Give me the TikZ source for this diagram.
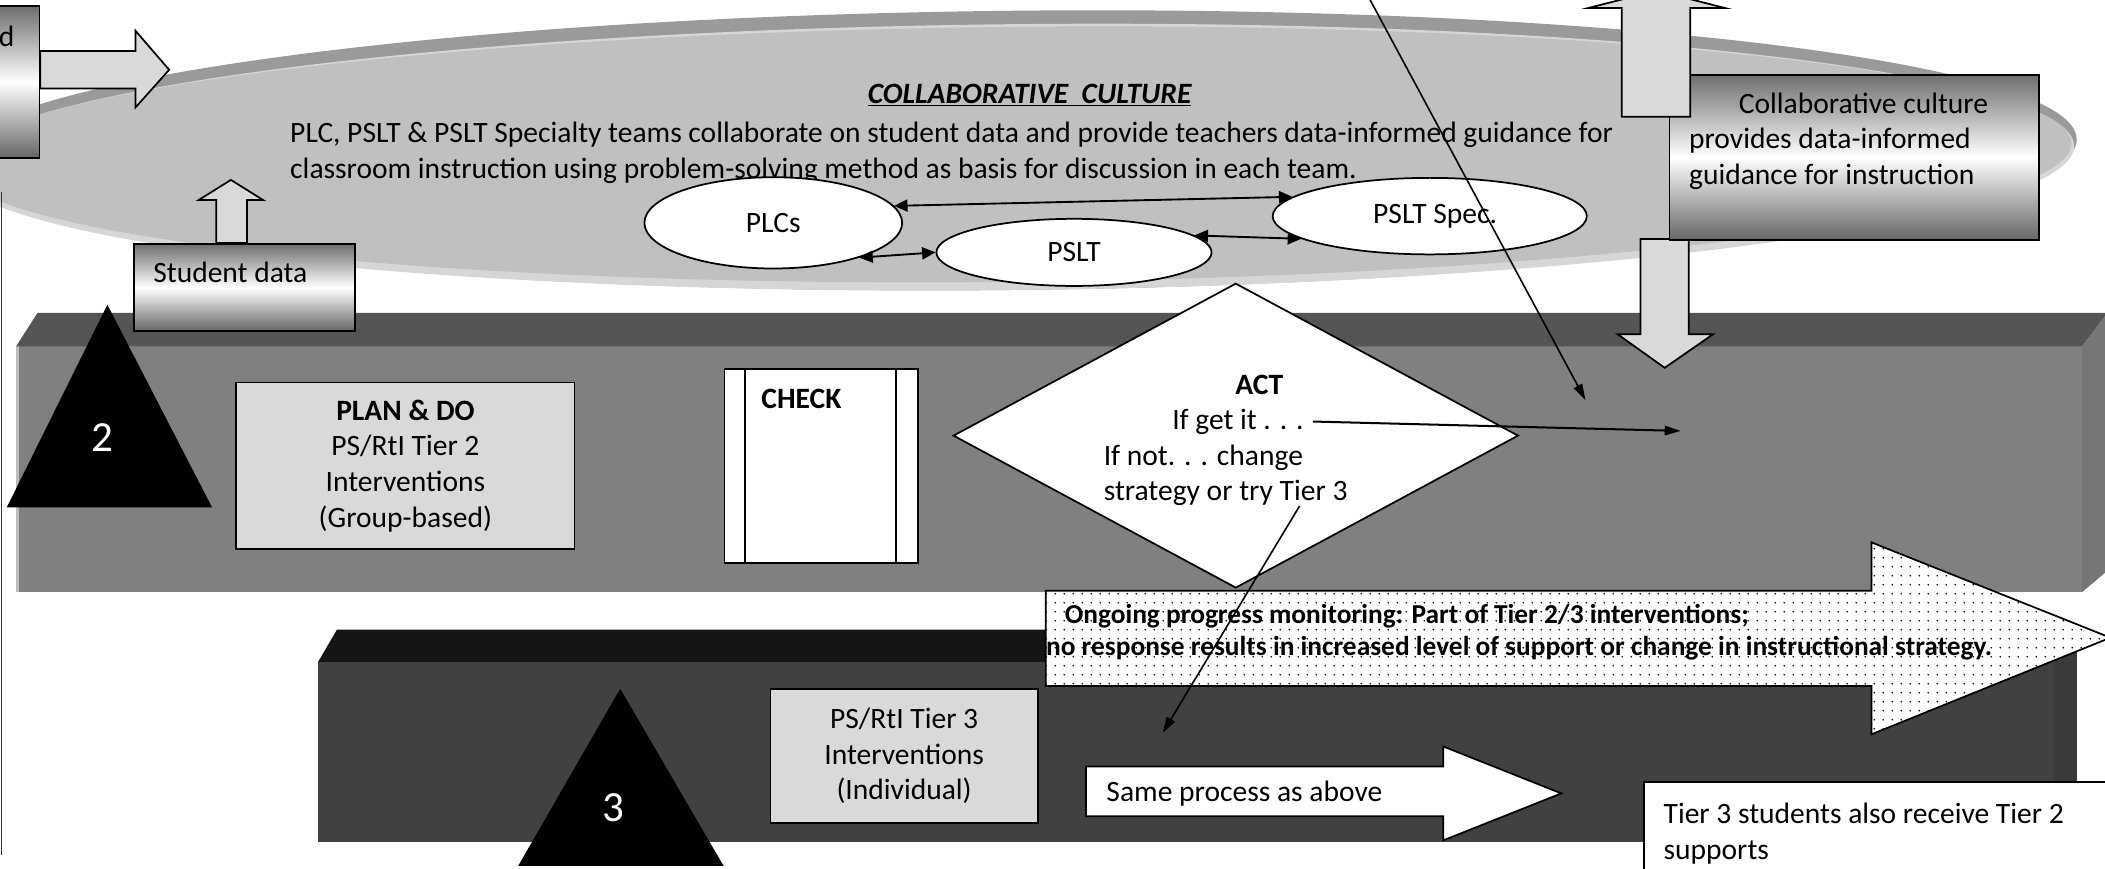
\documentclass[tikz,border=0pt]{standalone}
\usepackage{fontspec}
\setmainfont{Carlito}
\usetikzlibrary{shapes.geometric,arrows.meta,patterns.meta}
\definecolor{lgray}{HTML}{D9D9D9}
\definecolor{ellA}{HTML}{9A9A9A}
\definecolor{ellB}{HTML}{D6D6D6}
\definecolor{ellC}{HTML}{C0C0C0}
\definecolor{gTop}{HTML}{6E6E6E}
\definecolor{gBot}{HTML}{666666}
\definecolor{tTwoFront}{HTML}{808080}
\definecolor{tTwoTop}{HTML}{555555}
\definecolor{tTwoSide}{HTML}{767676}
\definecolor{tTwoEdge}{HTML}{BDBDBD}
\definecolor{tThreeFront}{HTML}{414141}
\definecolor{tThreeTop}{HTML}{151515}
\definecolor{tThreeSide}{HTML}{3A3A3A}
\definecolor{edgeLine}{HTML}{333333}
\newcommand\mainfs{\fontsize{22}{26.5}\selectfont}
\newcommand\progfs{\fontsize{20.4}{24}\selectfont}
\begin{document}
\begin{tikzpicture}[x=1pt,y=-1pt,
  every node/.style={font=\mainfs, inner sep=0pt},
  blockarrow/.style={draw=black, line width=1.3pt, fill=lgray},
  gradbox/.style={draw=black, line width=1.3pt, top color=gTop, bottom color=gBot, middle color=white},
  team/.style={ellipse, draw=black, line width=1.3pt, fill=white},
  link/.style={line width=1.4pt, arrows={Triangle[length=10pt,width=9pt]-Triangle[length=10pt,width=9pt]}},
  pointer/.style={line width=1.2pt, arrows={-Triangle[length=12pt,width=7pt]}},
  tierbox/.style={draw=black, line width=1.3pt, fill=lgray, align=center},
]
\useasboundingbox (0,0) rectangle (1568,646.6);

% collaborative culture ellipse
\begin{scope}[rotate around={0.6:(755,112)}]
  \fill[ellA] (755,112) ellipse [x radius=792, y radius=104];
  \fill[ellB] (755,117) ellipse [x radius=790, y radius=99];
  \fill[ellC] (755,115) ellipse [x radius=788, y radius=95];
\end{scope}

% left edge line
\draw[edgeLine, line width=0.8pt] (0.8,143) -- (0.8,637);

% top-left cut box and arrow
\node[gradbox, minimum width=45, minimum height=113, anchor=north east] (tl) at (30,4) {};
\node[anchor=west] (tltext) at (-1,27) {d};
\draw[blockarrow] (30,38) -- (101,38) -- (101,23) -- (126,52) -- (101,80) -- (101,66) -- (30,66) -- cycle;

% ellipse texts
\node (title) at (767,71) {\bfseries\itshape\underline{COLLABORATIVE\ \ CULTURE}};
\node[anchor=west, align=left] (body) at (216,114) {PLC, PSLT \& PSLT Specialty teams collaborate on student data and provide teachers data-informed guidance for\\classroom instruction using problem-solving method as basis for discussion in each team.};

\node[team, minimum width=192, minimum height=68] (plcs) at (576,166) {PLCs};
\node[team, minimum width=205, minimum height=50] (pslt) at (800,188) {PSLT};
\node[team, minimum width=234, minimum height=57] (spec) at (1065,161) {\hspace*{8pt}PSLT Spec.};
\draw[link] (plcs.8) -- (spec.172);
\draw[link] (plcs.-22) -- (pslt.west);
\draw[link] (pslt.8) -- (spec.190);

% tier 2 band
\fill[tTwoFront] (12,258) rectangle (1551,441);
\fill[tTwoEdge] (12,258) rectangle (14.5,441);
\fill[tTwoTop] (12,258) -- (28,233) -- (1570,233) -- (1551,258) -- cycle;
\fill[tTwoSide] (1551,258) -- (1570,233) -- (1570,425) -- (1551,441) -- cycle;

% student data
\node[gradbox, minimum width=165, minimum height=65, anchor=north west] (sd) at (99,181) {};
\node[anchor=west] (sdtext) at (114,203) {Student data};
\draw[blockarrow] (161,181) -- (161,149) -- (148,149) -- (172,134) -- (196,149) -- (184,149) -- (184,181) -- cycle;

% triangle 2
\fill[black] (80,227) -- (158,378) -- (5,378) -- cycle;
\node[text=white, font=\fontsize{32}{36}\selectfont] (two) at (76,326) {2};

% plan & do
\node[tierbox, minimum width=252, minimum height=124] (plan) at (302,347) {\textbf{PLAN \& DO}\\PS/RtI Tier 2\\Interventions\\(Group-based)};

% check
\node[draw=black, line width=1.3pt, fill=white, minimum width=144, minimum height=145, anchor=north west] (check) at (539,274) {};
\draw[line width=1.3pt] ([xshift=16pt]check.north west) -- ([xshift=16pt]check.south west);
\draw[line width=1.3pt] ([xshift=-17pt]check.north east) -- ([xshift=-17pt]check.south east);
\node[anchor=west] (checktext) at (567,297) {\textbf{CHECK}};

% act
\node[diamond, draw=black, line width=1.3pt, fill=white, minimum width=421, minimum height=227] (act) at (920.5,324.5) {};
\node[anchor=west, align=left] (acttext) at (822,328) {\hspace*{98pt}\textbf{ACT}\\\hspace*{51pt}If get it . . .\\If not. . . change\\strategy or try Tier 3};

% collaborative culture box and big arrows
\draw[blockarrow] (1222,178) -- (1222,249) -- (1205,249) -- (1240,274) -- (1276,249) -- (1258,249) -- (1258,178) -- cycle;
\node[gradbox, minimum width=275, minimum height=123, anchor=north west] (collab) at (1243,55) {};
\node[anchor=west, align=left] (collabtext) at (1258,105) {\hspace*{37pt}Collaborative culture\\provides data-informed\\guidance for instruction};
\draw[blockarrow] (1208,87) -- (1208,6) -- (1183,6) -- (1234,-7) -- (1285,6) -- (1259,6) -- (1259,87) -- cycle;

% tier 3 band
\fill[tThreeFront] (237,493) rectangle (1530,627);
\fill[tThreeTop] (237,493) -- (251,469) -- (1547,469) -- (1530,493) -- cycle;
\fill[tThreeSide] (1530,493) -- (1547,469) -- (1547,612) -- (1530,627) -- cycle;

% progress monitoring arrow
\draw[line width=1.3pt, preaction={fill=white}, pattern={Dots[distance=6.5pt,radius=0.65pt]}]
  (779,440) -- (1394,440) -- (1394,404) -- (1572,475) -- (1394,547) -- (1394,511) -- (779,511) -- cycle;
\node[anchor=west, align=left, font=\progfs\bfseries] (progtext) at (779,471) {\hspace*{14pt}Ongoing progress monitoring: Part of Tier 2/3 interventions;\\no response results in increased level of support or change in instructional strategy.};

% tier 3 content
\fill[black] (462,513) -- (539,645) -- (386,645) -- cycle;
\node[text=white, font=\fontsize{32}{36}\selectfont] (three) at (457,602) {3};
\node[tierbox, minimum width=199, minimum height=100] (tthree) at (673.5,563) {PS/RtI Tier 3\\Interventions\\(Individual)};
\draw[draw=black, line width=1.3pt, fill=white] (809,571) -- (1075,571) -- (1075,556) -- (1163,591) -- (1075,626) -- (1075,608) -- (809,608) -- cycle;
\node[anchor=west] (same) at (824,591) {Same process as above};
\node[draw=black, line width=1.3pt, fill=white, anchor=north west, minimum width=360, minimum height=80] (tts) at (1224,582) {};
\node[anchor=west, align=left] (ttstext) at (1239,621) {Tier 3 students also receive Tier 2\\supports};

% thin pointers
\coordinate (diagtop) at (1019,-3);
\coordinate (diagend) at (1181,298);
\draw[pointer] (diagtop) -- (diagend);
\coordinate (getit) at (978,314);
\coordinate (getittip) at (1252,321);
\draw[pointer, line width=1.5pt] (getit) -- (getittip);
\coordinate (trythree) at (968,377);
\coordinate (trythreetip) at (866,546);
\draw[pointer] (trythree) -- (trythreetip);
\end{tikzpicture}
\end{document}
